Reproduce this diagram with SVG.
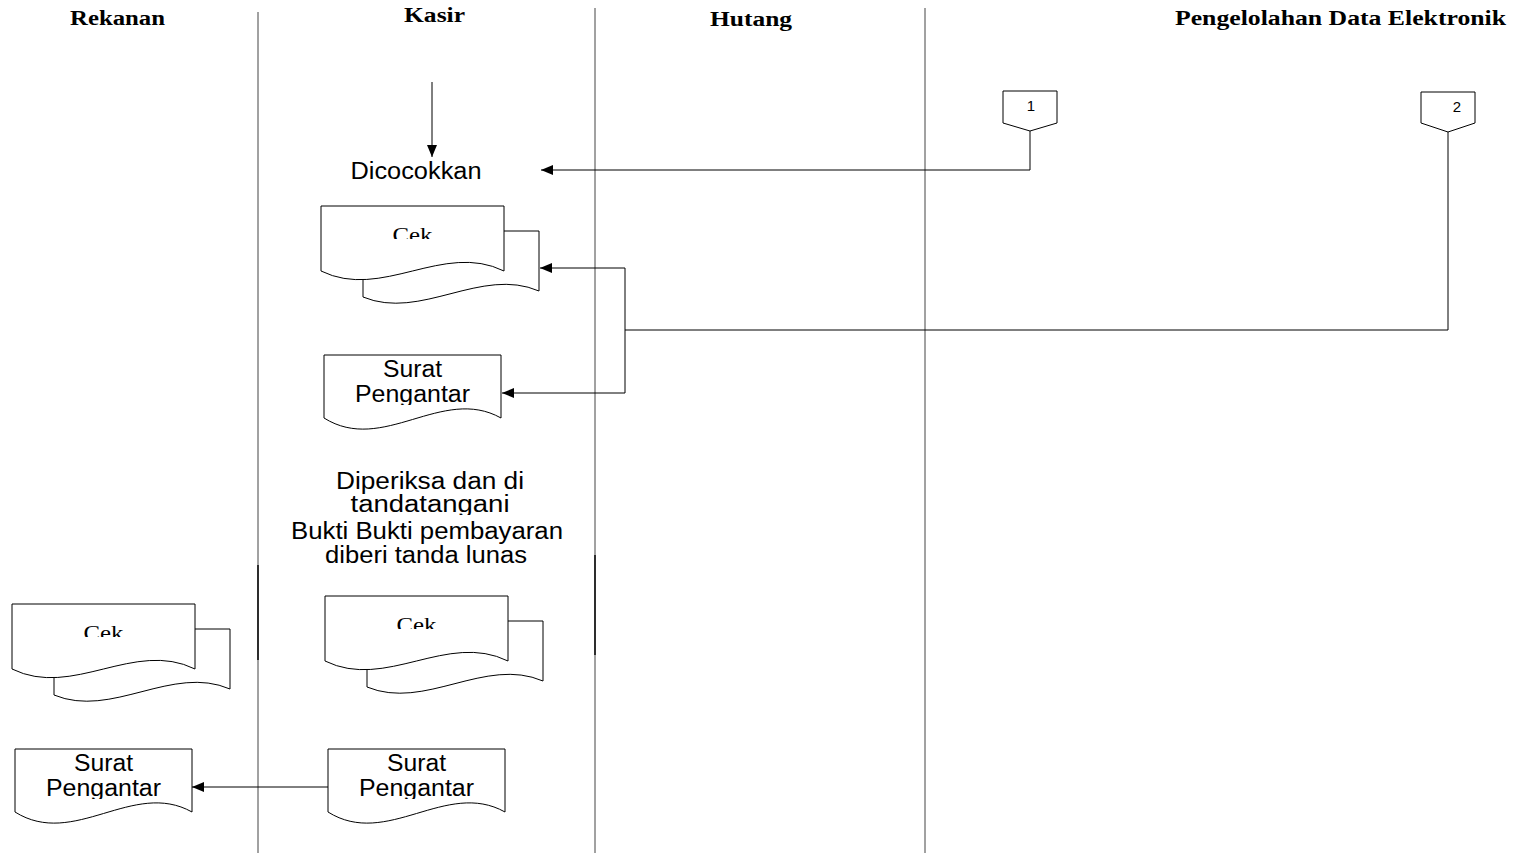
<svg xmlns="http://www.w3.org/2000/svg" width="1515" height="853" viewBox="0 0 1515 853">
<style>
.hd{font-family:"Liberation Serif","Times New Roman",serif;font-weight:bold;font-size:20px;fill:#000}
.t{font-family:"Liberation Sans",Arial,sans-serif;font-size:23px;fill:#000}
.cek{font-family:"Liberation Serif","Times New Roman",serif;font-size:22px;fill:#000}
.n{font-family:"Liberation Sans",Arial,sans-serif;font-size:15px;fill:#000}
.shape{fill:#fff;stroke:#000;stroke-width:1}
.ln{fill:none;stroke:#000;stroke-width:1}
.lane{stroke:#444;stroke-width:1}
.lane2{stroke:#111;stroke-width:1.6}
</style>
<defs>
<marker id="ah" viewBox="0 0 12 10" refX="12" refY="5" markerWidth="12" markerHeight="10" markerUnits="userSpaceOnUse" orient="auto">
<path d="M0,0 L12,5 L0,10 Z" fill="#000"/>
</marker>
<clipPath id="cekclip"><rect x="0" y="0" width="183" height="33"/></clipPath>
<clipPath id="surclip"><rect x="0" y="0" width="177" height="50"/></clipPath>
<clipPath id="tandclip"><rect x="300" y="492" width="260" height="23"/></clipPath>
<g id="multidoc">
<path class="shape" d="M42,25 H218 V85 C160,60 100,115 42,91 Z"/>
<path class="shape" d="M0,0 H183 V65 C122,35 61,95 0,65 Z"/>
<text class="cek" x="91.5" y="36" text-anchor="middle" textLength="40" lengthAdjust="spacingAndGlyphs" clip-path="url(#cekclip)">Cek</text>
</g>
<g id="surat">
<path class="shape" d="M0,0 H177 V63 C118,30 59,100 0,63 Z"/>
<text class="t" x="88.5" y="22" text-anchor="middle" textLength="59" lengthAdjust="spacingAndGlyphs">Surat</text>
<text class="t" x="88.5" y="47" text-anchor="middle" textLength="115" lengthAdjust="spacingAndGlyphs" clip-path="url(#surclip)">Pengantar</text>
</g>
</defs>

<g id="lanes">
<line class="lane" x1="258" y1="12" x2="258" y2="853"/>
<line class="lane" x1="595" y1="8" x2="595" y2="853"/>
<line class="lane" x1="925" y1="8" x2="925" y2="853"/>
<line class="lane2" x1="258" y1="565" x2="258" y2="660"/>
<line class="lane2" x1="595" y1="555" x2="595" y2="655"/>
</g>

<g id="headers">
<text class="hd" x="70" y="25" textLength="95" lengthAdjust="spacingAndGlyphs">Rekanan</text>
<text class="hd" x="404" y="22" textLength="61" lengthAdjust="spacingAndGlyphs">Kasir</text>
<text class="hd" x="710" y="26" textLength="82" lengthAdjust="spacingAndGlyphs">Hutang</text>
<text class="hd" x="1175" y="25" textLength="331" lengthAdjust="spacingAndGlyphs">Pengelolahan Data Elektronik</text>
</g>

<g id="connectors">
<line class="ln" x1="432" y1="82" x2="432" y2="157" marker-end="url(#ah)"/>
<polyline class="ln" points="1030,131 1030,170 541,170" marker-end="url(#ah)"/>
<polyline class="ln" points="1448,132 1448,330 625,330"/>
<polyline class="ln" points="625,393 625,268 540,268" marker-end="url(#ah)"/>
<line class="ln" x1="625" y1="393" x2="502" y2="393" marker-end="url(#ah)"/>
<line class="ln" x1="328" y1="787" x2="192" y2="787" marker-end="url(#ah)"/>
</g>

<g id="off1">
<path class="shape" d="M1003,91 H1057 V123 L1030,131 L1003,123 Z"/>
<text class="n" x="1031" y="111" text-anchor="middle">1</text>
</g>
<g id="off2">
<path class="shape" d="M1421,92 H1475 V123 L1448,132 L1421,123 Z"/>
<text class="n" x="1457" y="112" text-anchor="middle">2</text>
</g>

<g id="dicocokkan">
<text class="t" x="416" y="179" text-anchor="middle" textLength="131" lengthAdjust="spacingAndGlyphs">Dicocokkan</text>
</g>

<g id="cek-kasir-1"><use href="#multidoc" transform="translate(321,206)"/></g>
<g id="surat-kasir-1"><use href="#surat" transform="translate(324,355)"/></g>

<g id="diperiksa">
<text class="t" x="430" y="489" text-anchor="middle" textLength="188" lengthAdjust="spacingAndGlyphs">Diperiksa dan di</text>
<text class="t" x="430" y="512" text-anchor="middle" textLength="159" lengthAdjust="spacingAndGlyphs" clip-path="url(#tandclip)">tandatangani</text>
<text class="t" x="427" y="539" text-anchor="middle" textLength="272" lengthAdjust="spacingAndGlyphs">Bukti Bukti pembayaran</text>
<text class="t" x="426" y="563" text-anchor="middle" textLength="202" lengthAdjust="spacingAndGlyphs">diberi tanda lunas</text>
</g>

<g id="cek-rekanan"><use href="#multidoc" transform="translate(12,604)"/></g>
<g id="cek-kasir-2"><use href="#multidoc" transform="translate(325,596)"/></g>
<g id="surat-rekanan"><use href="#surat" transform="translate(15,749)"/></g>
<g id="surat-kasir-2"><use href="#surat" transform="translate(328,749)"/></g>
</svg>
